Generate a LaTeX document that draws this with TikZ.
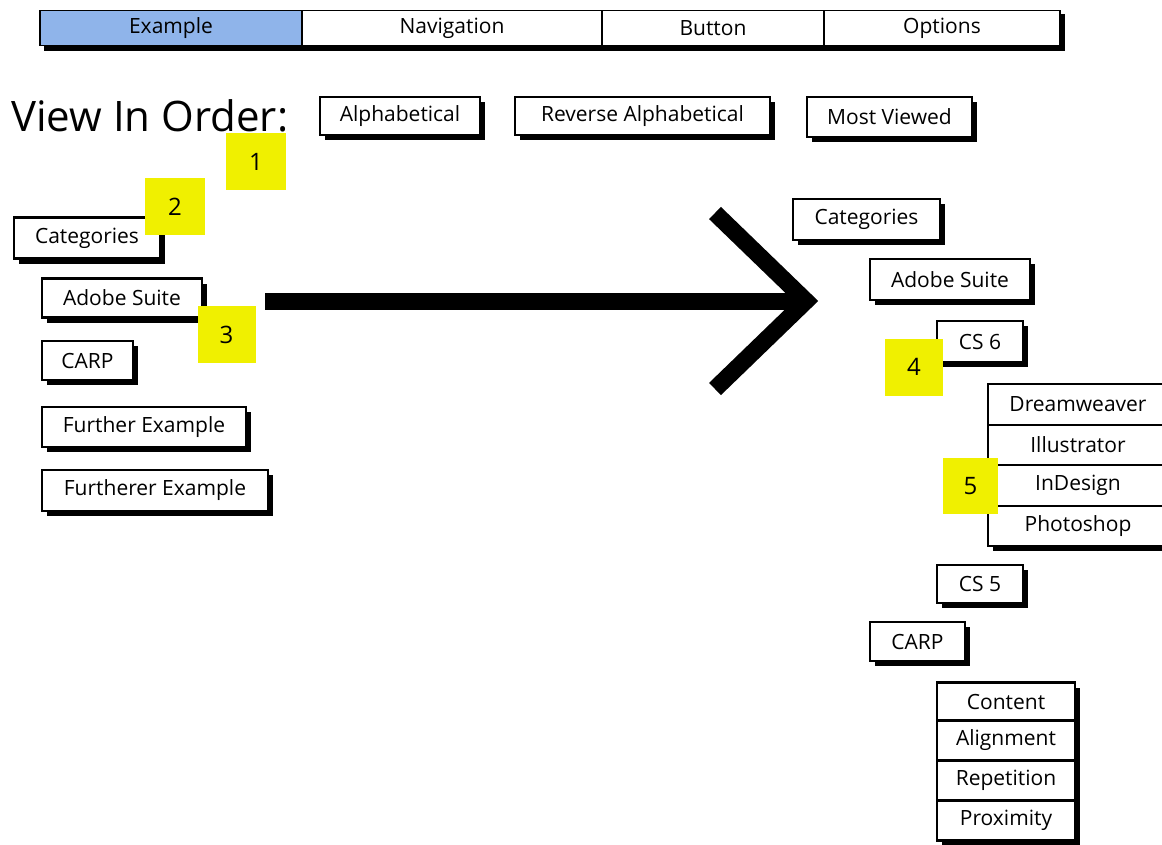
\documentclass[tikz,border=0pt]{standalone}
\usepackage{fontspec}
\setmainfont{Open Sans}
\usetikzlibrary{shadows}
\definecolor{tabblue}{RGB}{143,180,234}
\definecolor{noteyellow}{RGB}{240,240,0}
\tikzset{btn/.style={draw=black,line width=2.2pt,fill=white,inner sep=0pt,
  font=\fontsize{21}{24}\selectfont,
  drop shadow={shadow xshift=5pt,shadow yshift=-5pt,fill=black,opacity=1}}}
\tikzset{tab/.style={draw=black,line width=1.8pt,fill=white,inner sep=0pt,minimum height=35pt,
  font=\fontsize{21}{24}\selectfont}}
\tikzset{note/.style={fill=noteyellow,inner sep=0pt,minimum width=58pt,minimum height=57pt,
  font=\fontsize{24}{28}\selectfont}}

\begin{document}
\begin{tikzpicture}[x=1pt,y=-1pt]
\useasboundingbox (0,0) rectangle (1162,844);

% tab bar
\fill[black] (44,14) rectangle (1065,51);
\node[tab,fill=tabblue,minimum width=262pt] (tabex) at (171,28) {Example};
\node[tab,minimum width=300pt] (tabnav) at (452,28) {Navigation};
\node[tab,minimum width=222pt] (tabbtn) at (713,28) {Button};
\node[tab,minimum width=236pt] (tabopt) at (942,28) {Options};

% order buttons
\node[anchor=west,inner sep=0pt,font=\fontsize{42}{46}\selectfont] (vieworder) at (11,116) {View In Order:};
\node[btn,minimum width=160pt,minimum height=38pt] (alpha) at (400,116) {Alphabetical};
\node[btn,minimum width=255pt,minimum height=38pt] (revalpha) at (642.5,116) {Reverse Alphabetical};
\node[btn,minimum width=165pt,minimum height=40pt] (mostview) at (889.5,117) {Most Viewed};

% left list
\node[btn,minimum width=146pt,minimum height=41pt] (lcat) at (87,238) {Categories};
\node[btn,minimum width=160pt,minimum height=39pt] (ladobe) at (122,298) {Adobe Suite};
\node[btn,minimum width=91pt,minimum height=39pt] (lcarp) at (87.5,360.5) {CARP};
\node[btn,minimum width=204pt,minimum height=40pt] (lfurther) at (144,427) {Further Example};
\node[btn,minimum width=226pt,minimum height=41pt] (lfurtherer) at (155,490.5) {Furtherer Example};

% big arrow
\coordinate (arrstart) at (265,301);
\coordinate (arrtip) at (806,301);
\draw[line width=17pt] (arrstart) -- (arrtip);
\draw[line width=17pt,miter limit=4] (715,213) -- (arrtip) -- (715,389);

% right tree
\node[btn,minimum width=147pt,minimum height=41pt] (rcat) at (866.5,219.5) {Categories};
\node[btn,minimum width=160pt,minimum height=41pt] (radobe) at (950,279.5) {Adobe Suite};
\node[btn,minimum width=86pt,minimum height=41pt] (cs6) at (980,341.5) {CS 6};
\node[btn,minimum width=180pt,minimum height=40.5pt] (dream) at (1078,404.5) {Dreamweaver};
\node[btn,minimum width=180pt,minimum height=40.5pt] (illus) at (1078,445) {Illustrator};
\node[btn,minimum width=180pt,minimum height=40.5pt] (indes) at (1078,485.5) {InDesign};
\node[btn,minimum width=180pt,minimum height=40.5pt] (photo) at (1078,526) {Photoshop};
\node[btn,minimum width=86pt,minimum height=38pt] (cs5) at (980,584) {CS 5};
\node[btn,minimum width=95pt,minimum height=39pt] (rcarp) at (917.5,641.5) {CARP};
\node[btn,minimum width=138pt,minimum height=38pt] (content) at (1006,701.5) {Content};
\node[btn,minimum width=138pt,minimum height=40pt] (align) at (1006,740.5) {Alignment};
\node[btn,minimum width=138pt,minimum height=40pt] (repet) at (1006,780.5) {Repetition};
\node[btn,minimum width=138pt,minimum height=40pt] (proxim) at (1006,820.5) {Proximity};

% numbered notes
\node[note,minimum width=60pt] (note1) at (256,161.5) {1};
\node[note,minimum width=60pt] (note2) at (175,206.5) {2};
\node[note] (note3) at (226.5,334.5) {3};
\node[note] (note4) at (914,367) {4};
\node[note,minimum width=55pt,minimum height=56pt] (note5) at (970.5,486) {5};
\end{tikzpicture}
\end{document}
